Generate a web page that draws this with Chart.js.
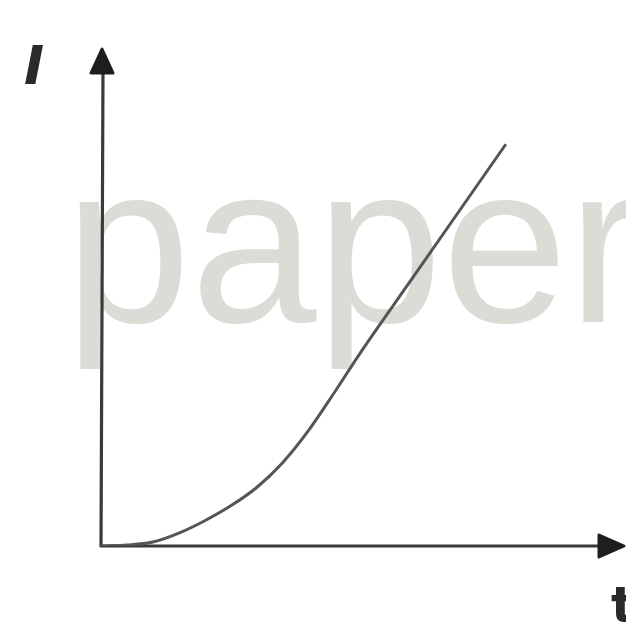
<!DOCTYPE html>
<html>
<head>
<meta charset="utf-8">
<script src="https://cdn.jsdelivr.net/npm/chart.js@4"></script>
<style>
  body { margin: 0; background: #fff; }
  #wrap { width: 626px; height: 639px; }
</style>
</head>
<body>
<div id="wrap"><canvas id="canvas1" width="626" height="639"></canvas></div>
<script>
/* curve data: current I against time t */
var tValues = [0, 0.5, 1, 1.5, 2, 2.5, 3, 3.5, 4, 4.5, 5, 6, 7, 7.8];
var iValues = [0, 0.02, 0.08, 0.26, 0.51, 0.81, 1.18, 1.68, 2.33, 3.1, 3.9, 5.4, 6.9, 8.1];

var axisLabels = ['I', 't'];
var watermark = 'paper';

var points = [];
for (var i = 0; i < tValues.length; i++) {
  points.push({ x: tValues[i], y: iValues[i] });
}

/* watermark behind everything */
var backText = {
  id: 'backText',
  beforeDraw: function (chart) {
    var ctx = chart.ctx;
    ctx.save();
    ctx.fillStyle = '#ffffff';
    ctx.fillRect(0, 0, chart.width, chart.height);
    ctx.fillStyle = '#dcdcd7';
    ctx.font = '226px "Liberation Sans", Arial, sans-serif';
    ctx.textBaseline = 'alphabetic';
    ctx.fillText(watermark, 65, 322);
    ctx.restore();
  }
};

/* axes with arrow heads, and the axis letters */
var arrowAxes = {
  id: 'arrowAxes',
  beforeDatasetsDraw: function (chart) {
    var ctx = chart.ctx;
    var xs = chart.scales.x, ys = chart.scales.y;
    var x0 = xs.getPixelForValue(0), y0 = ys.getPixelForValue(0);
    var xEnd = xs.right, yEnd = ys.top;
    ctx.save();
    ctx.strokeStyle = '#3a3a3a';
    ctx.fillStyle = '#1e1e1e';
    ctx.lineWidth = 3.2;
    ctx.lineCap = 'round';
    ctx.beginPath();
    ctx.moveTo(x0, y0);
    ctx.lineTo(x0 + 2, yEnd + 20);
    ctx.moveTo(x0, y0);
    ctx.lineTo(xEnd - 20, y0);
    ctx.stroke();

    // y arrow
    ctx.lineJoin = 'round';
    ctx.lineWidth = 3;
    ctx.strokeStyle = '#1e1e1e';
    ctx.beginPath();
    ctx.moveTo(x0 + 1, yEnd - 1);
    ctx.lineTo(x0 - 10, yEnd + 23);
    ctx.lineTo(x0 + 12, yEnd + 23);
    ctx.closePath();
    ctx.fill();
    ctx.stroke();

    // x arrow
    ctx.beginPath();
    ctx.moveTo(xEnd + 4, y0);
    ctx.lineTo(xEnd - 21, y0 - 11);
    ctx.lineTo(xEnd - 21, y0 + 11);
    ctx.closePath();
    ctx.fill();
    ctx.stroke();

    ctx.fillStyle = '#2a2a2a';
    ctx.font = 'italic bold 54px "DejaVu Sans", sans-serif';
    ctx.fillText(axisLabels[0], 24, 84);
    ctx.font = 'bold 50px "DejaVu Sans", sans-serif';
    ctx.fillText(axisLabels[1], 611, 622);
    ctx.restore();
  }
};

var ctx = document.getElementById('canvas1').getContext('2d');

var myChart = new Chart(ctx, {
  type: 'line',
  data: {
    datasets: [{
      data: points,
      borderColor: '#555555',
      borderWidth: 3,
      pointRadius: 0,
      fill: false,
      cubicInterpolationMode: 'monotone'
    }]
  },
  options: {
    responsive: false,
    animation: false,
    layout: { padding: { left: 101, top: 50, right: 6, bottom: 93 } },
    plugins: {
      legend: { display: false },
      tooltip: { enabled: false }
    },
    scales: {
      x: { type: 'linear', min: 0, max: 10, display: false },
      y: { min: 0, max: 10, display: false }
    }
  },
  plugins: [backText, arrowAxes]
});
</script>
</body>
</html>
